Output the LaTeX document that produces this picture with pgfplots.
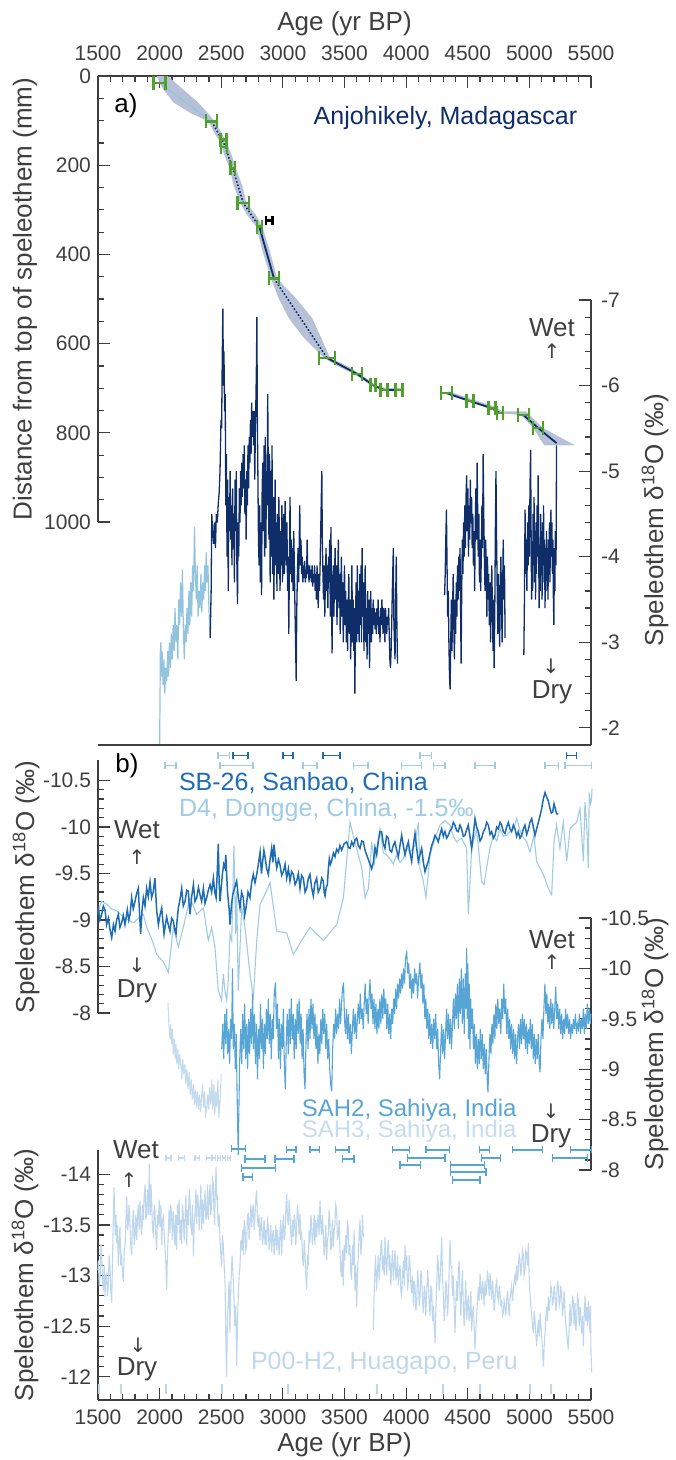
\documentclass[border=0pt]{standalone}
\usepackage{fontspec}
\setmainfont{Liberation Sans}
\newfontfamily\arrowfont{DejaVu Sans}
\usepackage{pgfplots}
\pgfplotsset{compat=1.18}
\definecolor{tgray}{HTML}{3F3F3F}
\definecolor{navy}{HTML}{0F2D69}
\definecolor{lightA}{HTML}{92C4E0}
\definecolor{bandc}{HTML}{B6C1D7}
\definecolor{agreen}{HTML}{4FA12B}
\definecolor{sbblue}{HTML}{1E6DB4}
\definecolor{dfour}{HTML}{9FCBE5}
\definecolor{sahtwo}{HTML}{57A5D5}
\definecolor{sahthree}{HTML}{C5DCEF}
\definecolor{pzero}{HTML}{BFD7ED}
\newcommand{\lab}{\fontsize{13}{15}\selectfont}
\newcommand{\ttl}{\fontsize{12.5}{15}\selectfont}
\newcommand{\sttl}{\fontsize{12}{14}\selectfont}
\newcommand{\arr}{\arrowfont\fontsize{10}{12}\selectfont}
\newcommand{\dO}{Speleothem δ\textsuperscript{18}O (‰)}
\pgfplotsset{
  base/.style={
    scale only axis, width=246.5pt, xmin=1500, xmax=5500,
    enlargelimits=false, clip=false,
    axis line style={-, draw=tgray, line width=0.6pt},
    tick style={draw=tgray, line width=0.6pt},
    major tick length=6pt, minor tick length=3pt,
    tick align=inside,
    ticklabel style={font=\fontsize{10.5}{12}\selectfont, text=tgray},
    /pgf/number format/assume math mode=true,
    /pgf/number format/1000 sep={},
    y dir=reverse,
  },
  ebar/.style={only marks, mark=text, text mark={}, forget plot},
}
\begin{document}
\begin{tikzpicture}
\path[use as bounding box] (0,0) rectangle (337.5pt,-730pt);

% ---------------- panel a : age model ----------------
\begin{axis}[base, at={(49pt,-38pt)}, anchor=north west, height=223pt,
  ymin=0, ymax=1000, axis x line*=top, axis y line*=left,
  xtick={1500,2000,...,5500}, minor x tick num=4,
  xticklabel style={yshift=4pt},
  ytick={0,200,...,1000}, minor y tick num=3]
\addplot[fill=bandc, draw=none, forget plot] coordinates {
(1975,0)(2030,30)(2111,59)(2250,83)(2397,102)(2440,126)(2495,150)(2526,178)(2568,207)(2601,246)(2654,285)(2709,311)(2784,338)(2838,396)(2903,454)(2965,498)(3048,543)(3170,587)(3333,632)(3440,650)(3577,668)(3711,693)(3801,704)(3922,708)
(3962,700)(3841,700)(3751,693)(3627,668)(3520,650)(3383,632)(3310,587)(3238,543)(3105,498)(2953,454)(2898,396)(2834,338)(2779,311)(2704,285)(2671,246)(2618,207)(2586,178)(2545,150)(2500,126)(2447,102)(2390,83)(2311,59)(2190,30)(2065,0)} -- cycle;
\addplot[fill=bandc, draw=none, forget plot] coordinates {
(4308,711)(4498,729)(4677,745)(4742,756)(4932,760)(5030,789)(5120,828)
(5370,828)(5110,789)(4972,752)(4782,752)(4717,741)(4538,725)(4348,707)} -- cycle;
\addplot[lightA, line width=0.6pt] coordinates {(2000,16)(2422,102)};
\addplot[navy, line width=0.8pt, densely dotted] coordinates {(2422,102)(2520,150)(2593,207)(2679,285)(2809,338)};
\addplot[navy, line width=0.9pt] coordinates {(2809,338)(2928,454)};
\addplot[navy, line width=0.8pt, densely dotted] coordinates {(2928,454)(3358,632)};
\addplot[navy, line width=0.9pt] coordinates {(3358,632)(3602,668)(3731,693)(3821,704)(3942,704)};
\addplot[navy, line width=0.9pt] coordinates {(4328,711)(4518,729)(4697,745)(4762,756)};
\addplot[navy, line width=0.9pt] coordinates {(4952,760)(5070,789)(5220,823)};
\addplot[ebar, error bars/.cd, x dir=both, x explicit,
  error bar style={color=agreen, line width=1.3pt},
  error mark options={color=agreen, line width=1.3pt, mark size=3.5pt, rotate=90}]
coordinates {
(2000,16) +- (50,0)
(2422,102) +- (45,0)
(2517,143) +- (25,0)
(2522,159) +- (25,0)
(2593,207) +- (20,0)
(2679,285) +- (45,0)
(2809,338) +- (20,0)
(2928,454) +- (40,0)
(3358,632) +- (65,0)
(3602,668) +- (40,0)
(3731,693) +- (22,0)
(3821,704) +- (30,0)
(3942,704) +- (30,0)
(4328,711) +- (45,0)
(4518,729) +- (30,0)
(4697,745) +- (30,0)
(4762,756) +- (25,0)
(4952,760) +- (45,0)
(5070,789) +- (40,0)};
\addplot[ebar, error bars/.cd, x dir=both, x explicit,
  error bar style={color=black, line width=1.1pt},
  error mark options={color=black, line width=1.1pt, mark size=2.2pt, rotate=90}]
coordinates {(2890,324) +- (25,0)};
\end{axis}

% ---------------- panel a : d18O ----------------
\begin{axis}[base, at={(49pt,-150pt)}, anchor=north west, height=222.5pt,
  ymin=-7, ymax=-1.8, axis x line=none, axis y line*=right, xtick=\empty,
  yticklabel style={xshift=1.5pt},
  ytick={-7,-6,-5,-4,-3,-2}, minor y tick num=4]
\addplot[lightA, line width=0.6pt] coordinates {
(2000,-1.8)(2003,-2.3)(2006,-2.9)(2010,-3.0)(2015,-2.6)(2020,-2.9)(2028,-2.5)(2035,-2.8)(2042,-2.4)(2050,-2.7)(2058,-2.55)(2065,-2.9)(2072,-2.6)(2080,-3.0)(2088,-2.7)(2095,-3.1)(2102,-2.8)(2110,-3.2)(2118,-2.9)(2125,-3.4)(2132,-3.0)(2140,-3.2)(2148,-2.8)(2155,-3.5)(2162,-3.2)(2170,-3.7)(2178,-3.3)(2185,-3.85)(2192,-3.2)(2200,-2.8)(2208,-3.2)(2215,-3.0)(2222,-3.4)(2230,-3.1)(2238,-3.6)(2245,-3.2)(2252,-3.7)(2260,-3.3)(2268,-3.9)(2275,-3.6)(2283,-4.35)(2290,-3.8)(2298,-3.5)(2305,-3.9)(2312,-3.3)(2320,-3.6)(2328,-3.4)(2335,-3.8)(2342,-3.35)(2350,-3.7)(2358,-3.5)(2365,-3.9)(2372,-3.6)(2378,-4.05)(2385,-3.7)(2392,-3.9)(2400,-3.4)(2405,-3.2)(2410,-3.05)};
\addplot[navy, line width=0.65pt] coordinates {
(2410,-3.05)(2418,-3.6)(2423,-4.5)(2430,-4.3)(2438,-4.15)(2445,-4.4)(2453,-4.1)(2460,-4.5)(2468,-4.4)(2475,-4.6)(2483,-4.75)(2490,-5.0)(2498,-5.6)(2503,-5.5)(2508,-6.3)(2513,-6.9)(2518,-6.0)(2522,-6.4)(2527,-5.7)(2532,-5.9)(2537,-4.6)(2542,-5.2)(2547,-4.0)(2552,-4.9)(2557,-3.6)(2562,-4.7)(2567,-4.3)(2572,-5.0)(2577,-4.2)(2582,-4.6)(2587,-3.9)(2592,-4.8)(2597,-4.1)(2602,-4.5)(2607,-3.7)(2612,-4.9)(2617,-4.3)(2622,-5.0)(2627,-3.9)(2632,-3.45)(2637,-4.4)(2642,-4.0)(2647,-4.8)(2652,-4.4)(2657,-5.0)(2662,-4.6)(2667,-5.1)(2672,-4.7)(2677,-5.2)(2682,-4.8)(2687,-5.3)(2692,-4.5)(2697,-4.9)(2702,-4.2)(2707,-5.0)(2712,-4.6)(2717,-5.3)(2722,-4.8)(2727,-5.4)(2732,-5.1)(2737,-5.6)(2742,-5.2)(2747,-5.8)(2752,-5.4)(2757,-5.7)(2762,-5.3)(2767,-5.7)(2772,-4.9)(2777,-5.5)(2782,-5.9)(2786,-6.3)(2789,-6.8)(2793,-5.6)(2797,-5.0)(2802,-4.2)(2807,-3.9)(2812,-4.6)(2817,-3.7)(2822,-4.4)(2827,-3.55)(2832,-4.8)(2837,-5.1)(2842,-4.3)(2847,-5.3)(2852,-4.0)(2857,-5.4)(2862,-4.1)(2867,-5.0)(2872,-4.6)(2877,-5.9)(2882,-4.9)(2887,-4.2)(2892,-5.2)(2897,-3.7)(2902,-5.0)(2907,-4.0)(2912,-5.3)(2917,-3.8)(2922,-4.7)(2927,-3.5)(2932,-4.3)(2937,-4.9)(2942,-3.9)(2947,-4.4)(2952,-3.6)(2957,-4.5)(2962,-3.8)(2967,-4.7)(2972,-4.2)(2977,-3.6)(2982,-4.3)(2987,-3.9)(2992,-4.6)(2997,-3.7)(3002,-4.2)(3007,-4.5)(3012,-3.8)(3018,-4.65)(3023,-4.1)(3028,-3.9)(3033,-4.4)(3038,-3.6)(3043,-4.0)(3048,-3.1)(3053,-3.9)(3058,-4.7)(3063,-3.8)(3068,-4.2)(3073,-3.7)(3078,-4.1)(3083,-3.6)(3088,-4.3)(3093,-3.9)(3098,-3.4)(3103,-3.0)(3108,-2.55)(3113,-3.4)(3118,-3.8)(3123,-4.1)(3128,-3.7)(3133,-4.2)(3137,-4.6)(3142,-3.9)(3147,-4.2)(3152,-3.8)(3157,-4.0)(3162,-3.7)(3167,-3.9)(3172,-3.75)(3177,-3.95)(3182,-3.7)(3187,-3.85)(3192,-3.75)(3197,-4.2)(3202,-3.8)(3207,-3.9)(3212,-3.7)(3217,-3.9)(3222,-3.75)(3227,-3.85)(3232,-3.7)(3237,-3.9)(3242,-3.65)(3247,-3.8)(3252,-3.7)(3257,-3.9)(3262,-3.6)(3267,-3.8)(3272,-3.5)(3277,-3.9)(3282,-3.7)(3287,-3.4)(3292,-3.8)(3297,-3.6)(3302,-3.9)(3307,-4.3)(3312,-4.7)(3316,-5.0)(3320,-4.2)(3325,-3.8)(3330,-3.5)(3335,-3.9)(3340,-3.3)(3345,-3.7)(3350,-4.1)(3355,-3.6)(3360,-3.9)(3365,-3.4)(3370,-4.0)(3375,-3.7)(3380,-4.2)(3385,-3.3)(3390,-4.35)(3395,-3.5)(3399,-2.87)(3404,-3.6)(3409,-3.9)(3414,-3.3)(3419,-3.8)(3424,-4.1)(3429,-3.5)(3434,-3.9)(3439,-3.2)(3444,-3.7)(3450,-4.2)(3455,-3.4)(3460,-3.8)(3465,-3.1)(3470,-3.6)(3475,-4.0)(3480,-3.3)(3485,-3.7)(3490,-3.0)(3495,-3.5)(3500,-3.9)(3505,-3.2)(3510,-3.6)(3515,-3.0)(3520,-3.5)(3525,-2.9)(3530,-3.4)(3535,-3.8)(3540,-3.1)(3545,-3.5)(3550,-2.8)(3555,-3.3)(3560,-3.9)(3565,-3.0)(3570,-3.5)(3575,-2.9)(3580,-3.4)(3584,-2.4)(3589,-3.2)(3594,-3.7)(3599,-3.0)(3604,-3.9)(3609,-3.1)(3614,-3.6)(3619,-3.0)(3624,-3.8)(3629,-3.2)(3634,-3.9)(3638,-3.0)(3643,-4.1)(3648,-3.3)(3653,-3.7)(3658,-2.9)(3663,-3.5)(3668,-3.9)(3673,-3.0)(3678,-3.4)(3683,-2.8)(3688,-3.6)(3693,-3.1)(3698,-3.5)(3703,-2.7)(3708,-3.3)(3713,-3.6)(3718,-3.0)(3723,-3.4)(3728,-3.1)(3733,-3.5)(3738,-3.2)(3743,-3.4)(3748,-3.15)(3753,-3.35)(3758,-3.1)(3763,-3.4)(3768,-3.2)(3773,-3.5)(3778,-3.1)(3783,-3.3)(3788,-3.0)(3793,-3.4)(3798,-3.2)(3803,-3.5)(3808,-3.3)(3813,-3.1)(3818,-3.4)(3823,-3.3)(3828,-3.0)(3833,-3.4)(3838,-3.2)(3843,-3.1)(3848,-3.3)(3853,-3.2)(3858,-3.4)(3863,-3.1)(3868,-2.8)(3873,-2.7)(3878,-2.9)(3883,-3.2)(3888,-3.6)(3893,-3.9)(3896,-4.1)(3900,-3.3)(3905,-3.0)(3910,-2.8)(3915,-3.5)(3920,-4.0)(3925,-3.2)(3930,-2.75)};
\addplot[navy, line width=0.65pt] coordinates {
(4312,-3.55)(4317,-3.8)(4322,-4.2)(4327,-4.55)(4332,-3.9)(4337,-3.3)(4342,-3.6)(4347,-3.0)(4352,-2.6)(4357,-2.45)(4362,-3.0)(4367,-3.5)(4372,-2.9)(4377,-3.4)(4382,-3.8)(4387,-3.2)(4392,-2.8)(4397,-3.5)(4402,-3.1)(4407,-3.7)(4412,-3.3)(4417,-3.9)(4422,-3.5)(4427,-4.0)(4432,-3.6)(4437,-4.1)(4442,-3.4)(4446,-2.75)(4451,-3.6)(4456,-4.2)(4461,-3.8)(4466,-4.4)(4471,-4.0)(4476,-4.6)(4481,-4.1)(4486,-4.7)(4491,-4.95)(4496,-4.3)(4501,-4.8)(4506,-4.0)(4511,-4.6)(4516,-4.2)(4521,-4.9)(4526,-4.4)(4531,-4.7)(4536,-4.1)(4541,-4.5)(4546,-3.9)(4551,-4.3)(4556,-3.6)(4561,-4.4)(4566,-4.8)(4571,-4.2)(4576,-5.1)(4580,-4.6)(4585,-4.0)(4590,-4.5)(4595,-3.7)(4600,-4.2)(4605,-3.6)(4610,-4.0)(4615,-4.6)(4620,-4.1)(4625,-5.2)(4630,-4.5)(4635,-4.0)(4640,-3.6)(4645,-4.2)(4650,-3.9)(4655,-3.3)(4660,-4.0)(4665,-3.5)(4670,-3.8)(4675,-3.2)(4680,-3.7)(4685,-3.0)(4690,-3.5)(4695,-3.9)(4700,-3.4)(4705,-2.9)(4710,-3.5)(4714,-2.7)(4719,-3.3)(4724,-4.3)(4729,-5.0)(4734,-4.2)(4739,-3.6)(4744,-3.1)(4749,-3.8)(4754,-3.3)(4759,-2.95)(4764,-3.6)(4769,-4.0)(4774,-3.4)(4779,-3.0)(4784,-3.7)(4788,-4.2)(4793,-3.5)(4798,-3.9)(4803,-3.05)};
\addplot[navy, line width=0.65pt] coordinates {
(4955,-2.85)(4960,-3.5)(4965,-4.55)(4970,-3.8)(4975,-4.2)(4980,-3.6)(4985,-4.4)(4990,-3.9)(4995,-4.6)(5000,-4.0)(5005,-4.8)(5010,-5.25)(5014,-4.3)(5018,-3.5)(5022,-4.1)(5026,-3.6)(5030,-4.5)(5034,-3.9)(5038,-4.7)(5042,-3.7)(5046,-4.4)(5050,-3.5)(5054,-4.2)(5058,-3.8)(5062,-4.6)(5066,-4.0)(5071,-4.95)(5075,-4.2)(5079,-3.4)(5083,-4.1)(5087,-3.6)(5091,-4.5)(5095,-3.8)(5099,-4.3)(5103,-3.5)(5107,-4.4)(5111,-3.9)(5115,-4.6)(5119,-3.7)(5123,-4.2)(5127,-3.4)(5131,-4.0)(5135,-3.6)(5139,-4.3)(5143,-3.8)(5147,-4.1)(5151,-3.5)(5155,-4.2)(5159,-3.9)(5163,-4.4)(5167,-3.7)(5171,-4.3)(5175,-4.55)(5179,-4.0)(5183,-4.4)(5187,-3.8)(5191,-4.2)(5195,-3.5)(5199,-3.2)(5203,-4.1)(5207,-3.6)(5211,-4.3)(5215,-3.9)(5218,-4.2)(5220,-5.3)};
\end{axis}
\draw[tgray, line width=0.6pt] (49pt,-372.5pt) -- (295.5pt,-372.5pt);

% ---------------- panel b : SB-26 and D4 ----------------
\begin{axis}[base, at={(49pt,-380pt)}, anchor=north west, height=126.5pt,
  ymin=-10.72, ymax=-8, axis x line=none, axis y line*=left, xtick=\empty,
  ytick={-10.5,-10,-9.5,-9,-8.5,-8}, minor y tick num=4]
\addplot[dfour, line width=0.55pt] coordinates {
(1500,-9.1)(1530,-9.2)(1570,-9.17)(1610,-9.12)(1651,-9.10)(1706,-9.03)(1745,-9.0)(1787,-8.97)(1830,-9.02)(1868,-9.06)(1895,-8.92)(1935,-8.8)(1976,-8.63)(2030,-8.55)(2071,-8.44)(2111,-8.92)(2152,-8.71)(2192,-8.92)(2247,-9.24)(2301,-9.06)(2355,-9.13)(2395,-8.78)(2422,-8.92)(2449,-8.71)(2476,-8.24)(2503,-8.14)(2517,-8.42)(2530,-8.24)(2544,-8.14)(2557,-8.35)(2571,-8.85)(2585,-8.78)(2603,-9.80)(2617,-8.85)(2625,-9.31)(2638,-8.24)(2652,-8.7)(2666,-9.13)(2693,-8.92)(2733,-8.42)(2760,-8.17)(2788,-8.78)(2815,-9.17)(2842,-9.24)(2896,-9.40)(2950,-8.88)(3031,-8.86)(3085,-8.63)(3166,-8.81)(3220,-8.92)(3329,-8.78)(3437,-8.95)(3491,-9.24)(3545,-10.05)(3572,-9.9)(3599,-9.77)(3640,-9.56)(3667,-9.24)(3694,-9.34)(3721,-9.84)(3741,-9.6)(3761,-9.77)(3788,-9.98)(3815,-9.72)(3842,-9.70)(3869,-9.66)(3896,-9.6)(3923,-9.70)(3950,-9.62)(3977,-9.66)(4004,-9.78)(4031,-9.73)(4072,-9.80)(4099,-10.05)(4112,-9.56)(4139,-9.42)(4161,-9.24)(4194,-9.70)(4234,-9.88)(4275,-10.02)(4315,-10.07)(4356,-10.02)(4383,-9.9)(4410,-9.84)(4450,-9.88)(4491,-9.77)(4505,-9.06)(4532,-9.77)(4572,-9.98)(4613,-9.41)(4632,-9.38)(4653,-9.56)(4680,-9.77)(4707,-9.91)(4735,-9.85)(4762,-9.98)(4790,-9.9)(4816,-9.91)(4843,-9.95)(4870,-9.98)(4897,-10.09)(4937,-9.91)(4978,-9.84)(5005,-9.73)(5037,-9.91)(5059,-9.63)(5086,-9.56)(5113,-9.49)(5154,-9.34)(5181,-9.27)(5200,-9.84)(5221,-10.02)(5248,-9.77)(5275,-10.05)(5303,-9.63)(5330,-9.98)(5357,-10.02)(5384,-10.05)(5411,-10.20)(5438,-9.63)(5451,-10.27)(5465,-10.02)(5478,-9.56)(5486,-10.37)(5497,-10.25)(5505,-10.30)(5508,-10.41)};
\addplot[sbblue, line width=0.75pt] coordinates {
(1500,-9.05)(1503,-9.13)(1516,-9.0)(1530,-9.06)(1543,-9.15)(1557,-9.11)(1570,-8.95)(1584,-9.02)(1597,-8.9)(1611,-8.81)(1625,-8.95)(1638,-8.88)(1651,-9.0)(1665,-9.06)(1678,-8.92)(1692,-8.97)(1705,-9.05)(1719,-8.95)(1728,-9.02)(1738,-9.11)(1750,-9.0)(1760,-9.06)(1773,-9.24)(1786,-9.12)(1800,-9.2)(1813,-9.28)(1827,-9.34)(1836,-9.1)(1846,-8.85)(1857,-9.1)(1868,-9.24)(1881,-9.15)(1895,-9.34)(1908,-9.25)(1922,-9.41)(1935,-9.24)(1948,-9.3)(1962,-9.45)(1976,-9.1)(1990,-8.95)(2003,-9.05)(2017,-9.13)(2027,-8.98)(2036,-8.85)(2047,-8.95)(2057,-9.03)(2070,-8.95)(2084,-8.88)(2097,-9.02)(2111,-8.99)(2122,-8.9)(2133,-8.85)(2142,-9.0)(2152,-9.13)(2165,-9.22)(2179,-9.34)(2192,-9.15)(2206,-9.2)(2220,-9.32)(2233,-9.31)(2240,-9.15)(2247,-9.06)(2260,-9.25)(2274,-9.38)(2287,-9.2)(2301,-9.24)(2315,-9.35)(2328,-9.27)(2341,-9.2)(2355,-9.34)(2368,-9.18)(2382,-9.24)(2395,-9.32)(2409,-9.38)(2422,-9.3)(2436,-9.45)(2447,-9.3)(2458,-9.24)(2467,-9.5)(2476,-9.82)(2483,-9.4)(2490,-9.2)(2500,-9.35)(2509,-9.49)(2520,-9.6)(2530,-9.56)(2537,-9.7)(2544,-9.49)(2551,-9.3)(2558,-9.2)(2565,-9.1)(2571,-8.95)(2582,-9.15)(2593,-9.27)(2609,-9.35)(2625,-9.42)(2638,-9.25)(2652,-9.13)(2665,-9.3)(2679,-9.24)(2690,-9.05)(2701,-9.13)(2717,-9.3)(2733,-9.24)(2746,-9.4)(2760,-9.49)(2774,-9.4)(2788,-9.49)(2801,-9.6)(2815,-9.73)(2826,-9.5)(2836,-9.63)(2846,-9.75)(2855,-9.68)(2869,-9.55)(2882,-9.49)(2896,-9.65)(2909,-9.77)(2919,-9.62)(2928,-9.81)(2940,-9.66)(2950,-9.56)(2964,-9.65)(2977,-9.59)(2990,-9.48)(3004,-9.52)(3018,-9.6)(3031,-9.45)(3045,-9.55)(3058,-9.42)(3071,-9.52)(3085,-9.49)(3099,-9.38)(3112,-9.42)(3126,-9.5)(3139,-9.34)(3152,-9.48)(3166,-9.45)(3180,-9.3)(3193,-9.34)(3207,-9.45)(3220,-9.49)(3233,-9.35)(3247,-9.26)(3260,-9.4)(3274,-9.45)(3287,-9.3)(3301,-9.34)(3315,-9.45)(3328,-9.42)(3335,-9.3)(3342,-9.26)(3352,-9.35)(3361,-9.38)(3369,-9.55)(3377,-9.66)(3386,-9.6)(3396,-9.64)(3410,-9.72)(3423,-9.68)(3436,-9.76)(3450,-9.73)(3463,-9.8)(3477,-9.75)(3497,-9.82)(3518,-9.84)(3531,-9.78)(3545,-9.77)(3558,-9.84)(3572,-9.8)(3585,-9.86)(3599,-9.88)(3612,-9.8)(3626,-9.77)(3640,-9.85)(3653,-9.84)(3667,-9.75)(3680,-9.7)(3694,-9.65)(3707,-9.6)(3720,-9.55)(3734,-9.62)(3747,-9.78)(3761,-9.7)(3775,-9.85)(3788,-9.95)(3801,-9.95)(3815,-9.82)(3828,-9.77)(3841,-9.9)(3855,-9.88)(3868,-9.75)(3882,-9.73)(3895,-9.8)(3909,-9.84)(3923,-9.75)(3937,-9.68)(3950,-9.8)(3964,-9.91)(3977,-9.8)(3991,-9.7)(4004,-9.78)(4018,-9.84)(4031,-9.72)(4045,-9.63)(4058,-9.8)(4072,-9.93)(4085,-9.78)(4099,-9.63)(4112,-9.7)(4126,-9.77)(4140,-9.62)(4153,-9.52)(4167,-9.58)(4180,-9.63)(4194,-9.72)(4207,-9.8)(4221,-9.85)(4234,-9.91)(4248,-9.88)(4261,-9.84)(4275,-9.92)(4288,-9.98)(4302,-9.9)(4315,-9.95)(4329,-9.88)(4342,-9.91)(4356,-9.96)(4369,-9.98)(4383,-10.05)(4396,-10.02)(4410,-9.96)(4423,-9.95)(4437,-10.02)(4450,-9.98)(4464,-9.9)(4477,-9.91)(4491,-9.97)(4504,-10.02)(4518,-9.9)(4532,-9.77)(4545,-9.92)(4559,-10.09)(4572,-10.0)(4586,-9.95)(4600,-9.85)(4613,-9.88)(4627,-9.95)(4640,-9.98)(4654,-10.05)(4667,-10.02)(4681,-9.92)(4694,-9.95)(4708,-9.88)(4721,-9.91)(4735,-10.0)(4748,-9.98)(4762,-10.05)(4775,-10.02)(4789,-9.95)(4802,-9.93)(4816,-10.0)(4829,-10.05)(4843,-9.98)(4856,-9.95)(4870,-10.02)(4883,-9.98)(4897,-9.9)(4910,-9.95)(4924,-9.88)(4937,-9.91)(4951,-9.98)(4964,-10.02)(4978,-9.92)(4991,-9.97)(5005,-10.05)(5019,-10.09)(5032,-10.0)(5046,-9.91)(5059,-9.98)(5073,-10.05)(5086,-10.12)(5100,-10.2)(5113,-10.3)(5127,-10.37)(5140,-10.32)(5154,-10.28)(5167,-10.2)(5178,-10.15)(5189,-10.16)(5200,-10.25)(5210,-10.2)(5221,-10.14)(5235,-10.14)};
\addplot[ebar, error bars/.cd, x dir=both, x explicit,
  error bar style={color=dfour, line width=0.6pt},
  error mark options={color=dfour, line width=0.6pt, mark size=1.8pt, rotate=90}]
coordinates {
(2088,-10.66) +- (45,0) (2624,-10.66) +- (134,0) (3220,-10.66) +- (57,0) (3631,-10.66) +- (60,0)
(4045,-10.66) +- (81,0) (4268,-10.66) +- (47,0) (4640,-10.66) +- (81,0) (5181,-10.66) +- (54,0)
(5397,-10.66) +- (108,0) (2522,-10.77) +- (48,0) (4160,-10.77) +- (48,0)};
\addplot[ebar, error bars/.cd, x dir=both, x explicit,
  error bar style={color=sbblue, line width=0.7pt},
  error mark options={color=sbblue, line width=0.7pt, mark size=1.8pt, rotate=90}]
coordinates {
(2656,-10.77) +- (61,0) (3041,-10.77) +- (41,0) (3395,-10.77) +- (69,0) (5343,-10.77) +- (40,0)};
\end{axis}

% ---------------- panel b : SAH2 / SAH3 ----------------
\begin{axis}[base, at={(49pt,-459pt)}, anchor=north west, height=126pt,
  ymin=-10.5, ymax=-8, axis x line=none, axis y line*=right, xtick=\empty,
  yticklabel style={xshift=1.5pt},
  ytick={-10.5,-10,-9.5,-9,-8.5,-8}, minor y tick num=4]
\addplot[sahthree, line width=0.55pt] coordinates {
(2068,-9.66)(2075,-9.45)(2084,-9.30)(2090,-9.45)(2097,-9.25)(2104,-9.40)(2111,-9.15)(2118,-9.30)(2126,-9.10)(2133,-9.25)(2140,-9.05)(2148,-9.20)(2155,-9.00)(2162,-9.15)(2173,-9.03)(2180,-8.90)(2188,-9.10)(2196,-8.95)(2205,-9.05)(2213,-8.85)(2222,-9.00)(2230,-8.80)(2240,-8.97)(2248,-8.75)(2256,-8.90)(2265,-8.70)(2273,-8.85)(2282,-8.65)(2290,-8.80)(2298,-8.62)(2306,-8.78)(2315,-8.60)(2323,-8.75)(2331,-8.58)(2340,-8.72)(2348,-8.85)(2356,-8.62)(2365,-8.78)(2373,-8.55)(2381,-8.60)(2390,-8.75)(2398,-8.60)(2406,-8.82)(2415,-8.65)(2423,-8.90)(2431,-8.60)(2440,-8.85)(2448,-8.55)(2456,-8.78)(2465,-8.62)(2473,-8.90)(2481,-8.52)(2491,-8.70)(2500,-8.95)};
\addplot[sahtwo, line width=0.55pt] coordinates {
(2504,-9.20)(2512,-9.45)(2520,-9.10)(2528,-9.55)(2536,-9.25)(2544,-9.60)(2552,-9.15)(2560,-9.40)(2568,-9.05)(2576,-9.50)(2584,-9.30)(2591,-10.00)(2598,-9.20)(2606,-9.45)(2614,-9.00)(2622,-9.35)(2628,-8.80)(2633,-8.45)(2638,-8.15)(2643,-8.60)(2650,-9.10)(2658,-9.40)(2666,-9.05)(2674,-9.55)(2682,-9.20)(2690,-9.65)(2698,-9.10)(2706,-9.45)(2714,-9.00)(2722,-9.50)(2730,-9.15)(2738,-9.60)(2746,-9.25)(2754,-9.75)(2762,-9.20)(2770,-9.55)(2778,-9.05)(2786,-9.45)(2794,-8.90)(2802,-9.40)(2810,-9.10)(2818,-9.65)(2826,-9.20)(2834,-9.50)(2842,-9.00)(2850,-9.45)(2858,-9.15)(2866,-9.60)(2874,-9.30)(2882,-9.70)(2890,-9.25)(2898,-9.55)(2906,-9.10)(2914,-9.50)(2922,-9.30)(2930,-9.75)(2940,-9.86)(2948,-9.40)(2956,-9.65)(2964,-9.10)(2972,-9.50)(2980,-9.00)(2988,-9.45)(2996,-9.20)(3004,-9.60)(3012,-9.05)(3020,-8.80)(3028,-9.30)(3036,-9.55)(3044,-9.15)(3052,-9.60)(3060,-9.25)(3068,-9.70)(3076,-9.30)(3084,-9.55)(3092,-9.10)(3100,-9.50)(3108,-9.20)(3116,-9.65)(3124,-9.35)(3132,-9.70)(3140,-9.25)(3148,-9.55)(3156,-9.10)(3164,-9.40)(3172,-8.95)(3180,-8.80)(3188,-9.30)(3196,-9.55)(3204,-9.20)(3212,-9.60)(3220,-9.30)(3228,-9.70)(3236,-9.40)(3244,-9.65)(3252,-9.30)(3260,-9.55)(3268,-9.20)(3276,-9.45)(3284,-9.05)(3292,-9.35)(3300,-9.15)(3308,-9.50)(3316,-9.25)(3324,-9.60)(3332,-9.35)(3340,-9.55)(3348,-9.20)(3356,-9.45)(3364,-9.10)(3372,-9.30)(3380,-9.00)(3388,-8.85)(3396,-8.78)(3404,-9.20)(3412,-9.45)(3420,-9.30)(3428,-9.60)(3436,-9.35)(3444,-9.55)(3452,-9.40)(3460,-9.70)(3468,-9.45)(3476,-9.65)(3484,-9.80)(3492,-9.86)(3500,-9.50)(3508,-9.35)(3516,-9.60)(3524,-9.30)(3532,-9.55)(3540,-9.25)(3548,-9.45)(3556,-9.15)(3564,-9.40)(3572,-9.60)(3580,-9.35)(3588,-9.55)(3596,-9.30)(3604,-9.50)(3612,-9.65)(3620,-9.45)(3628,-9.75)(3636,-9.50)(3644,-9.60)(3652,-9.40)(3660,-9.65)(3668,-9.85)(3676,-9.55)(3684,-9.70)(3692,-9.45)(3700,-9.75)(3707,-9.89)(3715,-9.60)(3723,-9.75)(3731,-9.45)(3739,-9.70)(3747,-9.40)(3755,-9.65)(3763,-9.35)(3771,-9.60)(3779,-9.40)(3787,-9.70)(3795,-9.45)(3803,-9.75)(3811,-9.50)(3819,-9.80)(3827,-9.55)(3835,-9.70)(3843,-9.40)(3851,-9.65)(3859,-9.35)(3867,-9.55)(3875,-9.30)(3883,-9.60)(3891,-9.45)(3899,-9.70)(3907,-9.55)(3915,-9.80)(3923,-9.60)(3931,-9.85)(3939,-9.70)(3947,-9.90)(3955,-9.75)(3963,-9.95)(3971,-9.80)(3979,-10.00)(3987,-9.85)(3995,-10.10)(4005,-10.16)(4013,-9.95)(4021,-10.05)(4029,-9.80)(4037,-9.95)(4045,-9.70)(4053,-9.90)(4061,-9.75)(4069,-10.00)(4077,-9.85)(4085,-9.95)(4093,-9.70)(4101,-9.90)(4112,-10.06)(4120,-9.80)(4128,-9.95)(4136,-9.65)(4144,-9.85)(4152,-9.50)(4160,-9.70)(4168,-9.40)(4176,-9.60)(4184,-9.30)(4192,-9.55)(4200,-9.25)(4208,-9.45)(4216,-9.20)(4224,-9.50)(4232,-9.30)(4240,-9.55)(4248,-9.20)(4256,-9.40)(4264,-9.05)(4272,-8.90)(4280,-9.20)(4288,-9.45)(4296,-9.15)(4304,-9.40)(4312,-9.10)(4320,-9.35)(4328,-9.60)(4336,-9.30)(4344,-9.55)(4352,-9.25)(4360,-9.50)(4368,-9.20)(4376,-9.45)(4384,-9.70)(4392,-9.40)(4400,-9.75)(4408,-9.50)(4416,-9.85)(4424,-9.40)(4432,-9.90)(4440,-9.55)(4448,-10.00)(4456,-9.45)(4464,-9.90)(4472,-9.35)(4480,-9.95)(4486,-9.60)(4491,-10.20)(4496,-9.50)(4501,-10.05)(4506,-9.30)(4512,-9.85)(4518,-9.20)(4524,-9.70)(4530,-9.40)(4538,-9.60)(4546,-9.20)(4554,-9.45)(4562,-9.05)(4570,-9.35)(4578,-9.00)(4586,-9.30)(4594,-9.05)(4602,-9.40)(4610,-9.10)(4618,-9.35)(4626,-9.00)(4634,-9.25)(4642,-8.95)(4650,-9.20)(4658,-8.90)(4664,-8.77)(4672,-9.10)(4680,-9.35)(4688,-9.15)(4696,-9.45)(4704,-9.25)(4712,-9.55)(4720,-9.30)(4728,-9.65)(4736,-9.40)(4744,-9.70)(4752,-9.45)(4760,-9.60)(4768,-9.35)(4776,-9.70)(4784,-9.50)(4792,-9.85)(4800,-9.55)(4808,-9.70)(4816,-9.35)(4824,-9.60)(4832,-9.30)(4840,-9.50)(4848,-9.20)(4856,-9.45)(4864,-9.15)(4872,-9.40)(4880,-9.10)(4888,-9.35)(4896,-9.05)(4904,-9.30)(4912,-9.45)(4920,-9.20)(4928,-9.50)(4936,-9.25)(4944,-9.55)(4952,-9.30)(4960,-9.50)(4968,-9.20)(4976,-9.45)(4984,-9.15)(4992,-9.40)(5000,-9.25)(5008,-9.50)(5016,-9.20)(5024,-9.45)(5032,-9.10)(5040,-9.35)(5048,-9.05)(5056,-9.30)(5064,-9.10)(5072,-9.35)(5080,-9.05)(5087,-8.97)(5094,-9.30)(5102,-9.50)(5110,-9.30)(5118,-9.60)(5126,-9.85)(5134,-9.55)(5142,-9.75)(5150,-9.45)(5158,-9.65)(5166,-9.40)(5174,-9.70)(5182,-9.45)(5190,-9.65)(5198,-9.40)(5206,-9.60)(5214,-9.82)(5222,-9.50)(5230,-9.65)(5238,-9.40)(5246,-9.60)(5254,-9.35)(5262,-9.55)(5270,-9.30)(5278,-9.50)(5286,-9.35)(5294,-9.60)(5302,-9.40)(5310,-9.55)(5318,-9.35)(5326,-9.50)(5334,-9.30)(5342,-9.45)(5350,-9.35)(5358,-9.50)(5366,-9.40)(5374,-9.55)(5382,-9.35)(5390,-9.45)(5398,-9.40)(5406,-9.55)(5414,-9.35)(5422,-9.50)(5430,-9.40)(5438,-9.60)(5446,-9.35)(5454,-9.55)(5462,-9.40)(5470,-9.65)(5478,-9.45)(5486,-9.60)(5494,-9.45)(5500,-9.55)};
\addplot[ebar, error bars/.cd, x dir=both, x explicit,
  error bar style={color=sahtwo, line width=0.7pt},
  error mark options={color=sahtwo, line width=0.7pt, mark size=1.8pt, rotate=90}]
coordinates {
(2641,-8.21) +- (56,0) (2774,-8.11) +- (81,0) (2804,-8.02) +- (138,0) (2715,-7.93) +- (37,0)
(3013,-8.11) +- (77,0) (3069,-8.2) +- (38,0) (3258,-8.2) +- (38,0) (3483,-8.2) +- (54,0)
(3530,-8.11) +- (47,0) (3957,-8.2) +- (69,0) (4256,-8.2) +- (95,0) (4034,-8.05) +- (83,0)
(4163,-8.12) +- (153,0) (4498,-8.05) +- (137,0) (4505,-7.98) +- (144,0) (4489,-7.9) +- (111,0)
(4635,-8.2) +- (41,0) (4690,-8.12) +- (77,0) (4985,-8.2) +- (120,0) (5331,-8.12) +- (142,0)
(5421,-8.2) +- (85,0)};
\addplot[ebar, error bars/.cd, x dir=both, x explicit,
  error bar style={color=sahthree, line width=0.6pt},
  error mark options={color=sahthree, line width=0.6pt, mark size=1.5pt, rotate=90}]
coordinates {
(2072,-8.12) +- (20,0) (2176,-8.12) +- (24,0) (2305,-8.12) +- (18,0) (2400,-8.12) +- (18,0)
(2440,-8.12) +- (12,0) (2480,-8.12) +- (12,0) (2520,-8.12) +- (12,0) (2560,-8.12) +- (12,0)};
\end{axis}

% ---------------- panel b : P00-H2 ----------------
\begin{axis}[base, at={(49pt,-575pt)}, anchor=north west, height=125pt,
  ymin=-14.24, ymax=-11.77, axis x line*=bottom, axis y line*=left,
  xtick={1500,2000,...,5500}, minor x tick num=4,
  xticklabel style={yshift=-1.5pt},
  ytick={-14,-13.5,-13,-12.5,-12}, minor y tick num=4,
  unbounded coords=jump]
\addplot[pzero, line width=0.55pt] coordinates {
(1500,-13.05)(1503,-13.15)(1510,-12.9)(1517,-12.99)(1524,-13.3)(1530,-13.2)(1537,-12.95)(1543,-12.85)(1550,-13.1)(1557,-12.79)(1563,-13.0)(1570,-13.02)(1577,-12.8)(1584,-12.90)(1590,-13.2)(1597,-13.10)(1604,-12.85)(1611,-12.73)(1620,-13.3)(1630,-13.87)(1640,-13.4)(1646,-13.6)(1652,-13.32)(1658,-13.5)(1665,-13.1)(1671,-13.3)(1678,-13.48)(1685,-13.1)(1692,-13.2)(1699,-13.0)(1706,-12.94)(1713,-13.25)(1720,-13.3)(1727,-13.55)(1733,-13.78)(1740,-13.45)(1745,-13.5)(1752,-13.7)(1760,-13.48)(1766,-13.3)(1773,-13.2)(1780,-13.5)(1787,-13.65)(1794,-13.3)(1800,-13.40)(1807,-13.6)(1814,-13.35)(1820,-13.55)(1827,-13.7)(1834,-13.45)(1841,-13.74)(1848,-13.5)(1855,-13.4)(1862,-13.7)(1868,-13.55)(1875,-13.8)(1882,-13.9)(1888,-13.55)(1895,-13.6)(1900,-13.8)(1905,-13.85)(1910,-13.6)(1916,-14.10)(1920,-13.75)(1925,-13.6)(1930,-13.9)(1935,-13.74)(1942,-13.45)(1950,-13.4)(1956,-13.7)(1962,-13.65)(1969,-13.4)(1976,-13.25)(1983,-13.6)(1990,-13.5)(1996,-13.75)(2003,-13.48)(2010,-13.7)(2017,-13.3)(2024,-13.55)(2030,-13.58)(2038,-13.4)(2045,-13.25)(2051,-13.1)(2057,-12.86)(2063,-13.2)(2070,-13.4)(2077,-13.65)(2084,-13.42)(2090,-13.7)(2097,-13.6)(2104,-13.35)(2111,-13.64)(2118,-13.45)(2125,-13.3)(2131,-13.6)(2138,-13.25)(2145,-13.7)(2152,-13.5)(2158,-13.75)(2165,-13.35)(2172,-13.55)(2179,-13.31)(2186,-13.7)(2192,-13.6)(2199,-13.35)(2206,-13.55)(2213,-13.8)(2220,-13.3)(2226,-13.65)(2233,-13.5)(2240,-13.85)(2247,-13.74)(2253,-13.5)(2260,-13.4)(2267,-13.7)(2274,-13.19)(2280,-13.5)(2287,-13.6)(2294,-13.85)(2301,-13.51)(2308,-13.8)(2315,-13.7)(2321,-13.45)(2328,-13.68)(2335,-13.9)(2341,-13.45)(2348,-13.75)(2355,-13.51)(2362,-13.7)(2368,-13.84)(2375,-13.55)(2382,-13.6)(2389,-13.9)(2395,-13.55)(2402,-13.75)(2409,-13.90)(2415,-13.6)(2422,-13.7)(2429,-13.95)(2436,-13.9)(2441,-13.65)(2446,-13.5)(2452,-13.85)(2458,-14.07)(2463,-13.75)(2467,-13.8)(2472,-13.6)(2476,-13.48)(2483,-13.6)(2490,-13.35)(2497,-13.2)(2503,-13.09)(2510,-13.4)(2517,-13.3)(2524,-13.1)(2531,-12.92)(2538,-12.3)(2544,-12.0)(2550,-12.6)(2558,-12.76)(2564,-12.95)(2570,-12.43)(2578,-12.9)(2588,-13.2)(2598,-12.94)(2604,-12.75)(2610,-12.5)(2618,-12.7)(2625,-12.10)(2631,-12.5)(2638,-12.8)(2645,-13.0)(2652,-13.09)(2659,-13.35)(2666,-13.25)(2673,-13.45)(2680,-13.2)(2686,-13.55)(2693,-13.48)(2699,-13.25)(2706,-13.3)(2713,-13.6)(2720,-13.61)(2726,-13.35)(2733,-13.5)(2740,-13.7)(2747,-13.48)(2754,-13.65)(2760,-13.7)(2767,-13.45)(2774,-13.6)(2780,-13.75)(2787,-13.84)(2794,-13.55)(2800,-13.48)(2807,-13.6)(2814,-13.35)(2821,-13.5)(2828,-13.58)(2834,-13.3)(2841,-13.38)(2848,-13.55)(2855,-13.3)(2862,-13.45)(2868,-13.3)(2875,-13.55)(2882,-13.5)(2888,-13.25)(2895,-13.35)(2902,-13.5)(2909,-13.23)(2916,-13.4)(2922,-13.45)(2929,-13.2)(2936,-13.35)(2943,-13.5)(2950,-13.25)(2956,-13.45)(2963,-13.33)(2970,-13.2)(2977,-13.45)(2983,-13.55)(2990,-13.2)(2997,-13.45)(3004,-13.6)(3010,-13.35)(3017,-13.4)(3024,-13.65)(3031,-13.81)(3038,-13.55)(3045,-13.5)(3051,-13.75)(3058,-13.6)(3065,-13.4)(3071,-13.3)(3078,-13.55)(3085,-13.38)(3092,-13.6)(3098,-13.55)(3105,-13.3)(3112,-13.48)(3118,-13.7)(3125,-13.6)(3132,-13.4)(3139,-13.61)(3145,-13.35)(3152,-13.4)(3159,-13.2)(3166,-13.09)(3173,-13.35)(3180,-13.2)(3186,-13.0)(3193,-12.86)(3200,-13.2)(3206,-13.1)(3213,-13.45)(3220,-13.32)(3227,-13.6)(3233,-13.5)(3240,-13.3)(3247,-13.42)(3254,-13.6)(3260,-13.3)(3267,-13.55)(3274,-13.38)(3280,-13.5)(3287,-13.6)(3294,-13.4)(3301,-13.74)(3308,-13.5)(3314,-13.4)(3321,-13.6)(3328,-13.42)(3335,-13.2)(3341,-13.3)(3348,-13.5)(3355,-13.15)(3362,-13.35)(3368,-13.4)(3375,-13.65)(3382,-13.51)(3389,-13.25)(3395,-13.3)(3402,-13.55)(3409,-13.28)(3416,-13.45)(3422,-13.5)(3429,-13.7)(3436,-13.65)(3443,-13.35)(3450,-13.4)(3457,-13.55)(3463,-13.25)(3470,-13.05)(3476,-12.99)(3483,-13.25)(3490,-12.9)(3497,-13.3)(3503,-13.15)(3510,-13.4)(3517,-13.22)(3524,-13.55)(3530,-13.48)(3537,-13.2)(3544,-13.3)(3550,-13.05)(3557,-12.96)(3564,-13.3)(3571,-13.1)(3578,-13.45)(3585,-12.85)(3592,-13.1)(3599,-12.69)(3605,-13.0)(3612,-13.2)(3619,-13.4)(3626,-13.55)(3633,-13.2)(3640,-13.35)(3646,-13.6)(3653,-13.38)(3690,nan)(3734,-12.46)(3740,-12.8)(3745,-13.0)(3752,-13.2)(3760,-12.85)(3768,-13.05)(3775,-13.2)(3781,-12.95)(3788,-13.1)(3795,-13.3)(3802,-13.35)(3808,-13.05)(3815,-13.2)(3822,-13.0)(3829,-13.38)(3835,-13.15)(3842,-13.0)(3849,-13.25)(3856,-13.35)(3862,-13.05)(3869,-13.2)(3876,-12.9)(3883,-13.1)(3890,-13.25)(3897,-12.95)(3903,-13.1)(3910,-13.25)(3917,-12.95)(3924,-13.0)(3930,-13.2)(3937,-12.9)(3944,-13.05)(3951,-13.1)(3957,-12.85)(3964,-12.8)(3971,-13.0)(3978,-13.15)(3985,-12.9)(3991,-13.3)(3998,-13.05)(4005,-13.2)(4012,-12.85)(4018,-12.95)(4025,-13.2)(4032,-13.1)(4039,-12.9)(4045,-12.83)(4052,-13.0)(4059,-12.7)(4066,-12.95)(4072,-12.9)(4079,-12.65)(4086,-12.76)(4093,-13.05)(4099,-12.95)(4106,-12.7)(4113,-12.8)(4120,-13.05)(4126,-12.98)(4133,-12.75)(4140,-12.63)(4147,-12.9)(4153,-12.85)(4160,-12.6)(4167,-12.82)(4174,-13.05)(4180,-12.95)(4187,-12.75)(4194,-12.6)(4201,-12.9)(4208,-12.85)(4214,-12.55)(4221,-12.7)(4228,-12.5)(4235,-12.33)(4241,-12.65)(4248,-12.9)(4255,-13.2)(4262,-13.09)(4268,-12.85)(4275,-12.95)(4282,-13.15)(4289,-13.38)(4295,-13.0)(4302,-12.8)(4309,-12.55)(4316,-12.69)(4322,-12.95)(4329,-12.89)(4336,-12.6)(4343,-12.76)(4349,-13.05)(4356,-13.35)(4363,-13.1)(4370,-13.09)(4376,-12.8)(4383,-13.0)(4390,-12.7)(4397,-12.43)(4403,-12.7)(4410,-12.95)(4417,-12.75)(4424,-13.02)(4430,-13.15)(4437,-12.82)(4444,-12.6)(4451,-12.9)(4457,-13.05)(4464,-12.69)(4471,-12.5)(4478,-12.75)(4484,-12.95)(4491,-12.56)(4498,-12.7)(4505,-12.8)(4511,-12.55)(4518,-12.6)(4525,-12.85)(4532,-12.45)(4538,-12.6)(4545,-12.7)(4552,-12.5)(4559,-12.27)(4565,-12.45)(4572,-12.6)(4579,-12.75)(4586,-12.89)(4593,-12.75)(4600,-13.02)(4606,-12.85)(4613,-12.76)(4620,-12.95)(4627,-12.85)(4633,-12.7)(4640,-12.95)(4647,-12.8)(4654,-12.89)(4660,-13.05)(4667,-12.95)(4674,-12.8)(4681,-13.02)(4687,-12.9)(4694,-12.76)(4701,-12.95)(4708,-12.82)(4714,-12.65)(4721,-12.76)(4728,-12.9)(4735,-12.95)(4741,-12.8)(4748,-12.75)(4755,-12.9)(4762,-12.83)(4768,-12.7)(4775,-12.76)(4782,-12.6)(4789,-12.63)(4795,-12.75)(4802,-12.69)(4809,-12.6)(4816,-12.76)(4823,-12.85)(4830,-12.69)(4836,-12.6)(4843,-12.76)(4850,-12.85)(4856,-12.9)(4863,-12.75)(4870,-12.85)(4877,-12.95)(4883,-13.0)(4890,-12.9)(4897,-13.1)(4904,-12.95)(4910,-13.05)(4917,-13.2)(4924,-13.15)(4930,-13.0)(4937,-13.09)(4944,-13.25)(4951,-13.2)(4957,-13.0)(4964,-13.05)(4971,-13.25)(4978,-13.22)(4985,-13.1)(4992,-13.32)(4998,-13.0)(5005,-12.82)(5012,-12.7)(5019,-12.6)(5026,-12.5)(5033,-12.43)(5039,-12.65)(5046,-12.56)(5053,-12.4)(5059,-12.3)(5066,-12.45)(5073,-12.56)(5080,-12.4)(5087,-12.63)(5093,-12.5)(5100,-12.4)(5107,-12.25)(5114,-12.10)(5120,-12.3)(5127,-12.43)(5134,-12.6)(5141,-12.69)(5147,-12.55)(5154,-12.79)(5161,-12.65)(5168,-12.76)(5174,-12.9)(5181,-12.85)(5188,-12.7)(5195,-12.76)(5201,-12.9)(5208,-12.82)(5215,-12.65)(5222,-12.76)(5228,-12.95)(5235,-12.89)(5242,-12.7)(5249,-12.75)(5255,-12.9)(5262,-12.8)(5269,-12.6)(5276,-12.69)(5282,-12.85)(5289,-12.63)(5296,-12.5)(5303,-12.43)(5309,-12.35)(5316,-12.27)(5323,-12.5)(5330,-12.72)(5336,-12.5)(5343,-12.6)(5350,-12.8)(5357,-12.74)(5363,-12.5)(5370,-12.73)(5377,-12.45)(5384,-12.56)(5390,-12.8)(5397,-12.76)(5404,-12.5)(5411,-12.69)(5418,-12.55)(5425,-12.43)(5431,-12.6)(5438,-12.3)(5445,-12.6)(5452,-12.8)(5458,-12.55)(5465,-12.69)(5472,-12.5)(5479,-12.75)(5485,-12.6)(5492,-12.43)(5496,-12.7)(5500,-12.23)(5506,-12.04)};
\addplot[ebar, error bars/.cd, y dir=both, y explicit,
  error bar style={color=pzero, line width=1pt}, error mark=none]
coordinates {
(1508,-11.88) +- (0,0.05) (1683,-11.88) +- (0,0.05) (2050,-11.88) +- (0,0.05) (2504,-11.88) +- (0,0.05)
(3045,-11.88) +- (0,0.05) (3761,-11.88) +- (0,0.05) (4303,-11.88) +- (0,0.05) (4600,-11.88) +- (0,0.05)
(5001,-11.88) +- (0,0.05) (5176,-11.88) +- (0,0.05)};
\end{axis}

% ---------------- text ----------------
\node[text=tgray, font=\lab] at (172.25pt,-12pt) {Age (yr BP)};
\node[text=tgray, font=\lab] at (172.25pt,-722.5pt) {Age (yr BP)};
\node[text=tgray, font=\lab, rotate=90] at (12.5pt,-149.5pt) {Distance from top of speleothem (mm)};
\node[text=tgray, font=\lab, rotate=90] at (13pt,-443.5pt) {\dO};
\node[text=tgray, font=\lab, rotate=90] at (12.5pt,-637.5pt) {\dO};
\node[text=tgray, font=\lab, rotate=90] at (327.5pt,-260pt) {\dO};
\node[text=tgray, font=\lab, rotate=90] at (327.5pt,-522pt) {\dO};
\node[text=black, font=\lab] at (63pt,-53pt) {a)};
\node[text=black, font=\lab] at (63.5pt,-383pt) {b)};
\node[text=navy, font=\ttl] at (222.75pt,-59pt) {Anjohikely, Madagascar};
\node[text=sbblue, font=\ttl, anchor=west] at (86pt,-391.5pt) {SB-26, Sanbao, China};
\node[text=dfour, font=\ttl, anchor=west] at (86pt,-405pt) {D4, Dongge, China, -1.5‰};
\node[text=sahtwo, font=\sttl, anchor=east, inner sep=0pt] at (258.5pt,-555pt) {SAH2, Sahiya, India};
\node[text=sahthree, font=\sttl, anchor=east, inner sep=0pt] at (258.5pt,-565.5pt) {SAH3, Sahiya, India};
\node[text=pzero, font=\ttl, anchor=west] at (122pt,-681.5pt) {P00-H2, Huagapo, Peru};
% wet / dry
\node[text=tgray, font=\lab] at (276pt,-164pt) {Wet};
\node[text=tgray, font=\arr] at (276pt,-175.5pt) {↑};
\node[text=tgray, font=\arr, inner sep=1pt] at (275.5pt,-333pt) {↓};
\node[text=tgray, font=\lab, inner sep=1pt] at (276pt,-346pt) {Dry};
\node[text=tgray, font=\lab] at (68.5pt,-415pt) {Wet};
\node[text=tgray, font=\arr] at (68.5pt,-428.5pt) {↑};
\node[text=tgray, font=\arr] at (68.5pt,-482.5pt) {↓};
\node[text=tgray, font=\lab] at (68.5pt,-495.5pt) {Dry};
\node[text=tgray, font=\lab] at (276pt,-470pt) {Wet};
\node[text=tgray, font=\arr] at (276pt,-481pt) {↑};
\node[text=tgray, font=\arr] at (275.5pt,-555.5pt) {↓};
\node[text=tgray, font=\lab] at (275.5pt,-568pt) {Dry};
\node[text=tgray, font=\lab, anchor=west] at (53pt,-575pt) {Wet};
\node[text=tgray, font=\arr] at (64.5pt,-590pt) {↑};
\node[text=tgray, font=\arr] at (69pt,-672.5pt) {↓};
\node[text=tgray, font=\lab] at (68.5pt,-684.5pt) {Dry};
\end{tikzpicture}
\end{document}
